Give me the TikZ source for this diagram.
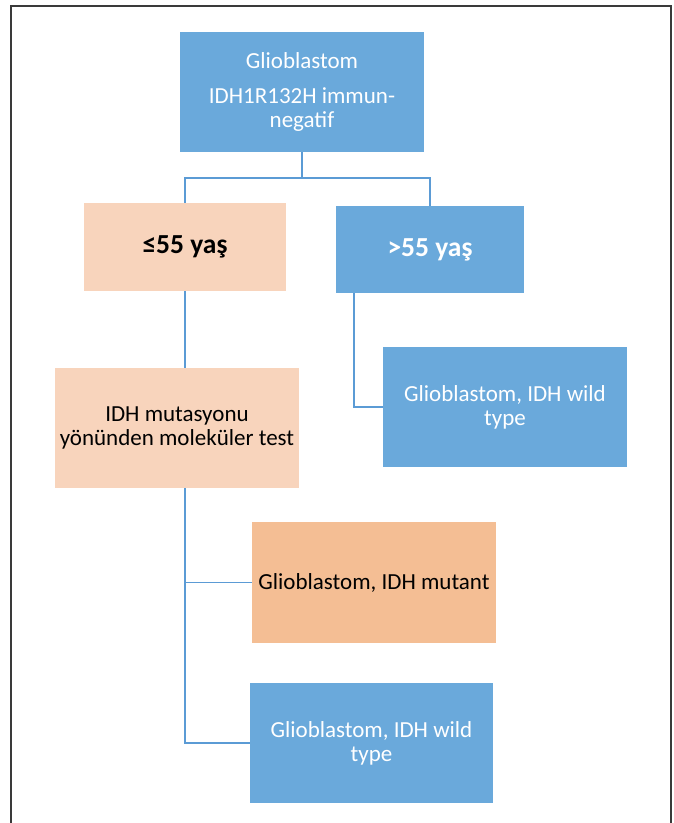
\documentclass[tikz,border=0pt]{standalone}
\usepackage{fontspec}
\setmainfont{Carlito}
\definecolor{boxblue}{HTML}{6AA9DB}
\definecolor{peachlight}{HTML}{F8D4BC}
\definecolor{peachdark}{HTML}{F4BE94}
\definecolor{linkblue}{HTML}{5B9BD5}
\definecolor{framegray}{HTML}{3A3A3A}
\tikzset{
  box/.style={rectangle, inner sep=0pt, align=center, font=\fontsize{23}{24}\selectfont},
  bluebox/.style={box, fill=boxblue, text=white},
  peachbox/.style={box, fill=peachlight, text=black},
  mutbox/.style={box, fill=peachdark, text=black},
  boldtext/.style={font=\fontsize{27.5}{30}\selectfont\bfseries},
  link/.style={draw=linkblue, line width=1.8pt},
}
\begin{document}
\begin{tikzpicture}[x=1pt,y=-1pt]
\useasboundingbox (0,0) rectangle (673,823);
\draw[framegray, line width=2pt] (10.5,823) -- (10.5,5.5) -- (671,5.5) -- (671,823);

\node[bluebox, minimum width=244pt, minimum height=120pt] (top) at (302,92)
  {Glioblastom\\[11pt]IDH1R132H immun-\\negatif};
\node[peachbox, boldtext, minimum width=202pt, minimum height=88pt] (young) at (185,247) {≤55 yaş};
\node[bluebox, boldtext, minimum width=188pt, minimum height=87pt] (old) at (430,249.5) {>55 yaş};
\node[peachbox, minimum width=244pt, minimum height=120pt] (test) at (177,428)
  {IDH mutasyonu\\yönünden moleküler test};
\node[bluebox, minimum width=244pt, minimum height=120pt] (wt1) at (505,407)
  {Glioblastom, IDH wild\\type};
\node[mutbox, minimum width=244pt, minimum height=121pt] (mut) at (374,582.5)
  {Glioblastom, IDH mutant};
\node[bluebox, minimum width=243pt, minimum height=120pt] (wt2) at (371.5,743)
  {Glioblastom, IDH wild\\type};

\coordinate (split) at (302,178);
\draw[link] (top.south) -- (split);
\draw[link] (split) -- (185,178) -- (young.north);
\draw[link] (split) -- (430,178) -- (old.north);
\draw[link] (young.south) -- (test.north -| young.south);
\draw[link] (old.south west) ++(18,0) |- (wt1.west);
\draw[link] (test.south -| young.south) |- (wt2.west);
\draw[link] (test.south -| young.south) |- (mut.west);
\end{tikzpicture}
\end{document}
